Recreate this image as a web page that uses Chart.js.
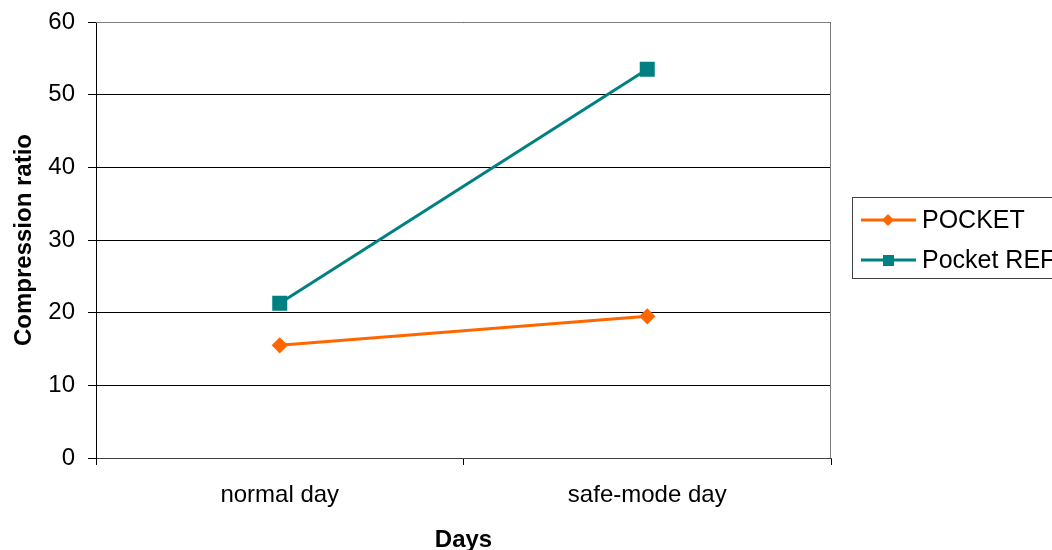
<!DOCTYPE html>
<html>
<head>
<meta charset="utf-8">
<script src="https://cdn.jsdelivr.net/npm/chart.js@4"></script>
<style>
  html, body { margin: 0; padding: 0; background: #fff; }
  #wrap { width: 1052px; height: 550px; }
</style>
</head>
<body>
<div id="wrap"><canvas id="chart" width="1052" height="550"></canvas></div>
<script>
// Daten
const days = ['normal day', 'safe-mode day'];
const pocketValues = [15.5, 19.5];
const pocketRefValues = [21.3, 53.5];
const seriesNames = ['POCKET', 'Pocket REF'];

const FONT = 'Liberation Sans, Arial, sans-serif';
const FSIZE = 24;

// Rahmen oben/rechts um die Plotfläche
const frame = {
    id: 'frame',
    beforeDatasetsDraw(chart) {
        const a = chart.chartArea;
        const ctx = chart.ctx;
        ctx.save();
        ctx.strokeStyle = '#808080';
        ctx.lineWidth = 1;
        ctx.beginPath();
        ctx.moveTo(a.left, a.top + 0.5);
        ctx.lineTo(a.right - 0.5, a.top + 0.5);
        ctx.lineTo(a.right - 0.5, a.bottom);
        ctx.stroke();
        ctx.restore();
    }
};

// Legende wie in Excel: Linie mit Marker
const excelLegend = {
    id: 'excelLegend',
    afterDraw(chart) {
        const ctx = chart.ctx;
        const x0 = 852, y0 = 197;
        ctx.save();
        ctx.strokeStyle = '#404040';
        ctx.lineWidth = 1;
        ctx.strokeRect(x0 + 0.5, y0 + 0.5, 260, 81);
        chart.data.datasets.forEach((ds, i) => {
            const y = y0 + 23 + i * 40;
            ctx.strokeStyle = ds.borderColor;
            ctx.lineWidth = 3;
            ctx.beginPath();
            ctx.moveTo(861, y);
            ctx.lineTo(916, y);
            ctx.stroke();
            ctx.fillStyle = ds.borderColor;
            if (ds.pointStyle === 'rectRot') {
                ctx.beginPath();
                ctx.moveTo(888, y - 6);
                ctx.lineTo(894, y);
                ctx.lineTo(888, y + 6);
                ctx.lineTo(882, y);
                ctx.closePath();
                ctx.fill();
            } else {
                ctx.fillRect(883, y - 5, 11, 11);
            }
            ctx.fillStyle = '#000';
            ctx.font = '25px ' + FONT;
            ctx.textBaseline = 'middle';
            ctx.fillText(ds.label, 922, y + 1);
        });
        ctx.restore();
    }
};

new Chart(document.getElementById('chart'), {
    type: 'line',
    data: {
        labels: days,
        datasets: [
            {
                label: seriesNames[0],
                data: pocketValues,
                borderColor: '#FF6600',
                backgroundColor: '#FF6600',
                borderWidth: 3,
                pointStyle: 'rectRot',
                pointRadius: 6,
                pointHoverRadius: 6,
                tension: 0
            },
            {
                label: seriesNames[1],
                data: pocketRefValues,
                borderColor: '#008080',
                backgroundColor: '#008080',
                borderWidth: 3,
                pointStyle: 'rect',
                pointRadius: 8.5,
                pointHoverRadius: 8.5,
                tension: 0
            }
        ]
    },
    options: {
        responsive: false,
        animation: false,
        layout: { padding: { left: 0, right: 221, top: 22, bottom: 0 } },
        plugins: {
            legend: { display: false },
            tooltip: { enabled: false }
        },
        scales: {
            x: {
                offset: true,
                grid: {
                    offset: true,
                    drawOnChartArea: false,
                    drawTicks: true,
                    tickLength: 7,
                    color: '#000'
                },
                border: { color: '#404040', width: 1 },
                ticks: { color: '#000', font: { family: FONT, size: FSIZE }, padding: 16 },
                title: {
                    display: true,
                    text: 'Days',
                    color: '#000',
                    font: { family: FONT, size: FSIZE, weight: 'bold', lineHeight: 1 },
                    padding: { top: 24, bottom: -2 }
                },
                afterFit(scale) { scale.height = 92; }
            },
            y: {
                min: 0,
                max: 60,
                ticks: { stepSize: 10, color: '#000', font: { family: FONT, size: FSIZE }, padding: 13 },
                grid: { color: '#000', tickLength: 8, drawTicks: true },
                border: { color: '#000', width: 1 },
                title: {
                    display: true,
                    text: 'Compression ratio',
                    color: '#000',
                    font: { family: FONT, size: FSIZE, weight: 'bold' },
                    padding: { top: 10, bottom: 20 }
                },
                afterFit(scale) {
                    scale.width = 96;
                    scale.paddingTop = 0;
                    scale.paddingBottom = 0;
                }
            }
        }
    },
    plugins: [frame, excelLegend]
});
</script>
</body>
</html>
